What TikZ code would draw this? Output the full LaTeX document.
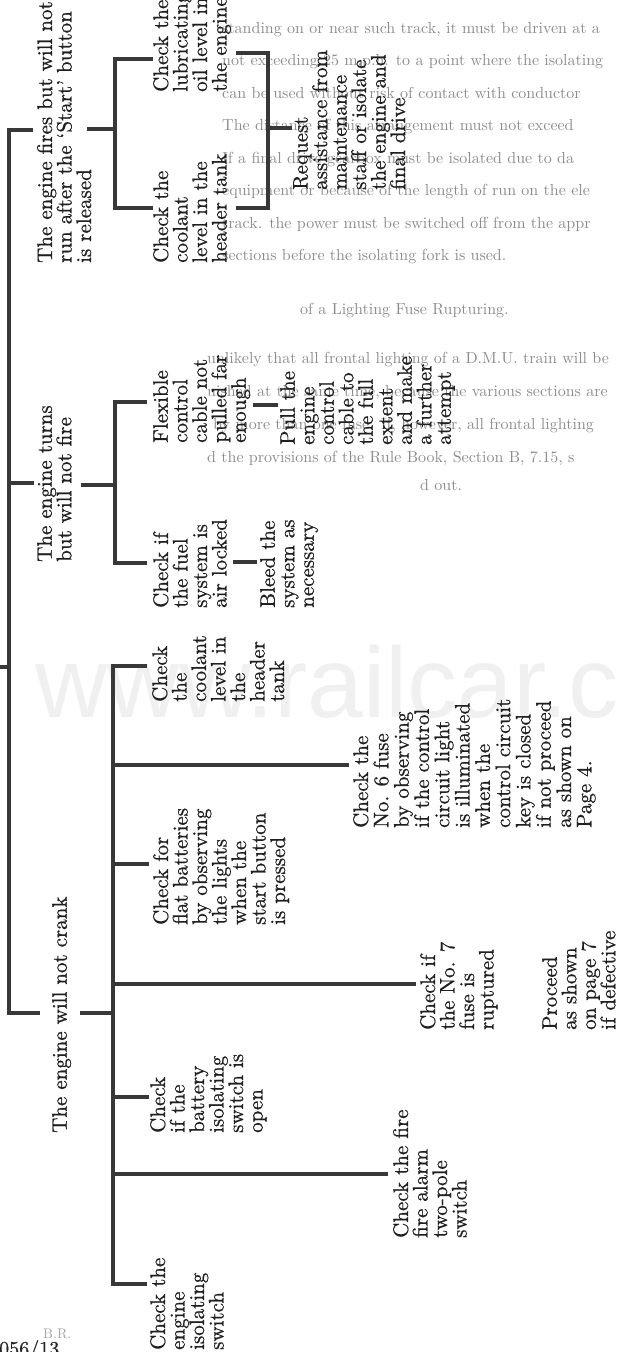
\documentclass[tikz,border=0pt]{standalone}
\usepackage{fontspec}
\newfontfamily\dfont{lmroman10-regular.otf}[Ligatures=TeX,FakeBold=0.7]
\newfontfamily\bfont{lmroman10-regular.otf}[Ligatures=TeX]
\newfontfamily\wmfont{Liberation Sans}
\begin{document}
\begin{tikzpicture}[x=1pt,y=-1pt,
  txt/.style={rotate=90, anchor=north west, inner sep=0pt, align=left,
    font=\dfont\fontsize{21}{19.5}\selectfont, text=black!88},
  ln/.style={line width=3.2pt, draw=black!78, line cap=rect},
  bleed/.style={anchor=base west, inner sep=0pt, text=black!45,
    font=\bfont\fontsize{16}{20}\selectfont},
  wm/.style={anchor=base west, inner sep=0pt, text=black!6,
    font=\wmfont\fontsize{100}{100}\selectfont}]
\useasboundingbox (0,0) rectangle (618,1352);
\clip (0,0) rectangle (618,1352);
\fill[white] (0,0) rectangle (618,1352);

% watermark and show-through text
\node[wm] (wmk) at (35,717) {www.railcar.co.uk};
\node[bleed] (b1) at (222,33) {standing on or near such track, it must be driven at a};
\node[bleed] (b2) at (222,65.5) {not exceeding 25 m.p.h. to a point where the isolating};
\node[bleed] (b3) at (222,98) {can be used without risk of contact with conductor};
\node[bleed] (b4) at (222,130.5) {The distance of this arrangement must not exceed};
\node[bleed] (b5) at (222,163) {If a final drive gearbox must be isolated due to da};
\node[bleed] (b6) at (222,195.5) {equipment or because of the length of run on the ele};
\node[bleed] (b7) at (222,228) {track. the power must be switched off from the appr};
\node[bleed] (b8) at (222,260.5) {sections before the isolating fork is used.};
\node[bleed] (b9) at (300,314) {of a Lighting Fuse Rupturing.};
\node[bleed] (b10) at (207,363) {unlikely that all frontal lighting of a D.M.U. train will be};
\node[bleed] (b11) at (207,396) {uished at the same time, because the various sections are};
\node[bleed] (b12) at (213,429) {by more than one fuse. If, however, all frontal lighting};
\node[bleed] (b13) at (207,462) {d the provisions of the Rule Book, Section B, 7.15, s};
\node[bleed] (b14) at (420,490) {d out.};

% main branches
\node[txt] (fires) at (37,263) {The engine fires but will not\\run after the `Start' button\\is released};
\node[txt] (turns) at (37,562) {The engine turns\\but will not fire};
\node[txt] (crank) at (52,1133) {The engine will not crank};

% fires branch
\node[txt] (lub) at (153,92) {Check the\\lubricating\\oil level in\\the engine};
\node[txt] (coolF) at (153,263) {Check the\\coolant\\level in the\\header tank};
\node[txt] (req) at (293,190) {Request\\assistance from\\maintenance\\staff or isolate\\the engine and\\final drive};

% turns branch
\node[txt] (flex) at (153,443) {Flexible\\control\\cable not\\pulled far\\enough};
\node[txt] (pull) at (280,445) {Pull the\\engine\\control\\cable to\\the full\\extent\\and make\\a further\\attempt};
\node[txt] (fuel) at (153,608) {Check if\\the fuel\\system is\\air locked};
\node[txt] (bleedn) at (260,608) {Bleed the\\system as\\necessary};

% crank branch
\node[txt] (coolC) at (152,702) {Check\\the\\coolant\\level in\\the\\header\\tank};
\node[txt, font=\dfont\fontsize{21}{20.3}\selectfont] (fuse6) at (353,828) {Check the\\No. 6 fuse\\by observing\\if the control\\circuit light\\is illuminated\\when the\\control circuit\\key is closed\\if not proceed\\as shown on\\Page 4.};
\node[txt] (flat) at (153,925) {Check for\\flat batteries\\by observing\\the lights\\when the\\start button\\is pressed};
\node[txt] (fuse7) at (420,1030) {Check if\\the No. 7\\fuse is\\ruptured};
\node[txt] (proc) at (542,1030) {Proceed\\as shown\\on page 7\\if defective};
\node[txt] (batt) at (150,1133) {Check\\if the\\battery\\isolating\\switch is\\open};
\node[txt] (alarm) at (393,1238) {Check the fire\\fire alarm\\two-pole\\switch};
\node[txt] (eiso) at (150,1350) {Check the\\engine\\isolating\\switch};

% footer
\node[anchor=base west, inner sep=0pt, text=black!35, font=\bfont\fontsize{14}{14}\selectfont] (br) at (43,1338) {B.R.};
\node[anchor=north west, inner sep=0pt, text=black!85, font=\dfont\fontsize{20}{20}\selectfont] (num) at (-1,1340) {056/13};

% ---- connector coordinates ----
\coordinate (mTop) at (9,130);
\coordinate (mF) at (31,130);
\coordinate (mT0) at (9,483);
\coordinate (mT) at (32,483);
\coordinate (mBot) at (9,1013);
\coordinate (mC) at (38,1013);
\coordinate (tk0) at (0,667);
\coordinate (tk1) at (9,667);

\coordinate (jF0) at (89,129);
\coordinate (jF) at (115,129);
\coordinate (sFt) at (115,59);
\coordinate (sFb) at (115,208);
\coordinate (eLub) at (151,59);
\coordinate (eCoolF) at (151,208);
\coordinate (rLub) at (238,53);
\coordinate (rCool) at (238,208);
\coordinate (rT) at (268,53);
\coordinate (rB) at (268,208);
\coordinate (rM) at (268,128);
\coordinate (eReq) at (290,128);

\coordinate (jT0) at (83,485);
\coordinate (jT) at (115,485);
\coordinate (sTt) at (115,402);
\coordinate (sTb) at (115,563);
\coordinate (eFlex) at (145,402);
\coordinate (eFuel) at (145,563);
\coordinate (fp0) at (255,405);
\coordinate (fp1) at (276,405);
\coordinate (fb0) at (235,562);
\coordinate (fb1) at (255,562);

\coordinate (jC0) at (82,1013);
\coordinate (jC) at (113,1013);
\coordinate (sCt) at (113,666);
\coordinate (sCb) at (113,1284);
\coordinate (s6) at (113,765);
\coordinate (sFl) at (113,864);
\coordinate (s7) at (113,984);
\coordinate (sBa) at (113,1097);
\coordinate (sAl) at (113,1174);
\coordinate (eCoolC) at (145,666);
\coordinate (e6) at (347,765);
\coordinate (eFl) at (147,864);
\coordinate (e7) at (414,984);
\coordinate (eBa) at (147,1097);
\coordinate (eAl) at (386,1174);
\coordinate (eEi) at (145,1284);

% ---- connectors ----
\draw[ln] (mF) -- (mTop) -- (mBot) -- (mC);
\draw[ln] (mT0) -- (mT);
\draw[ln] (tk0) -- (tk1);

\draw[ln] (jF0) -- (jF);
\draw[ln] (eLub) -- (sFt) -- (sFb) -- (eCoolF);
\draw[ln] (rLub) -- (rT) -- (rB) -- (rCool);
\draw[ln] (rM) -- (eReq);

\draw[ln] (jT0) -- (jT);
\draw[ln] (eFlex) -- (sTt) -- (sTb) -- (eFuel);
\draw[ln] (fp0) -- (fp1);
\draw[ln] (fb0) -- (fb1);

\draw[ln] (jC0) -- (jC);
\draw[ln] (eCoolC) -- (sCt) -- (sCb) -- (eEi);
\draw[ln] (s6) -- (e6);
\draw[ln] (sFl) -- (eFl);
\draw[ln] (s7) -- (e7);
\draw[ln] (sBa) -- (eBa);
\draw[ln] (sAl) -- (eAl);
\end{tikzpicture}
\end{document}
